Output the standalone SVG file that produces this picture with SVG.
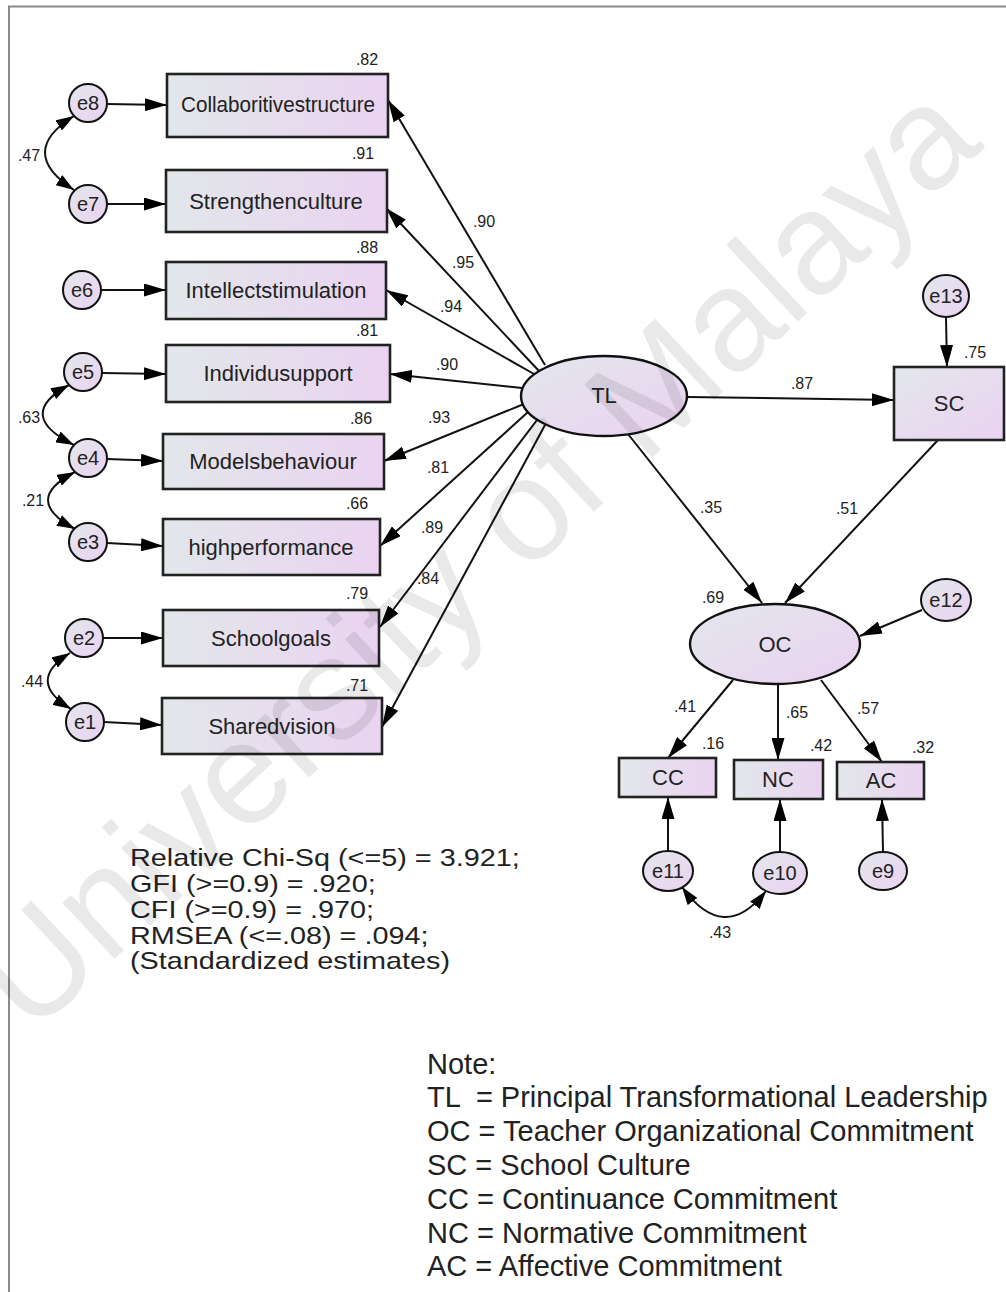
<svg xmlns="http://www.w3.org/2000/svg" width="1006" height="1292" viewBox="0 0 1006 1292">
<style>
text{font-family:"Liberation Sans",Arial,sans-serif;fill:#222}
.n{font-size:16px;text-anchor:middle}
.nd{font-size:22px;text-anchor:middle}
.en{font-size:20px;text-anchor:middle}
.big{font-size:29px}
.fit{font-size:24px}
.box{fill:url(#gh);stroke:#222;stroke-width:2.6}
.ell{fill:url(#gd);stroke:#111;stroke-width:2.4}
.err{fill:url(#gd);stroke:#111;stroke-width:2}
.c line,.c path{stroke:#111;stroke-width:2;fill:none}
</style>
<defs>
<linearGradient id="gh" x1="0" y1="0" x2="1" y2="0"><stop offset="0" stop-color="#e2e7ea"/><stop offset="1" stop-color="#ead3f1"/></linearGradient>
<linearGradient id="gd" x1="0" y1="0" x2="1" y2="1"><stop offset="0" stop-color="#e3e7ec"/><stop offset="1" stop-color="#ead2f1"/></linearGradient>
<marker id="a" viewBox="0 0 22 13" refX="22" refY="6.5" markerWidth="22" markerHeight="13" markerUnits="userSpaceOnUse" orient="auto-start-reverse"><path d="M0,0 L22,6.5 L0,13 z" fill="#000"/></marker>
<marker id="b" viewBox="0 0 18 12" refX="18" refY="6" markerWidth="18" markerHeight="12" markerUnits="userSpaceOnUse" orient="auto-start-reverse"><path d="M0,0 L18,6 L0,12 z" fill="#000"/></marker>
</defs>
<rect width="1006" height="1292" fill="#fff"/>
<path d="M9,1292 V6.5 H1006" fill="none" stroke="#8a8a8a" stroke-width="2"/>

<g id="connectors" class="c">
<line x1="107" y1="104" x2="167" y2="105" marker-end="url(#a)"/>
<line x1="107" y1="204" x2="166" y2="204" marker-end="url(#a)"/>
<line x1="101" y1="290" x2="166" y2="290" marker-end="url(#a)"/>
<line x1="102" y1="373" x2="166" y2="374" marker-end="url(#a)"/>
<line x1="107" y1="459" x2="163" y2="461" marker-end="url(#a)"/>
<line x1="107" y1="543" x2="163" y2="546" marker-end="url(#a)"/>
<line x1="103" y1="638" x2="163" y2="638" marker-end="url(#a)"/>
<line x1="104" y1="722" x2="162" y2="725" marker-end="url(#a)"/>
<path d="M74,116 Q16,152 74,190" marker-start="url(#b)" marker-end="url(#b)"/>
<path d="M69,385 Q14,415 74,445" marker-start="url(#b)" marker-end="url(#b)"/>
<path d="M75,472 Q21,500 75,529" marker-start="url(#b)" marker-end="url(#b)"/>
<path d="M70,653 Q25,681 71,709" marker-start="url(#b)" marker-end="url(#b)"/>
<line x1="545" y1="365" x2="388" y2="100" marker-end="url(#a)"/>
<line x1="539" y1="371" x2="386" y2="208" marker-end="url(#a)"/>
<line x1="534" y1="374" x2="386" y2="290" marker-end="url(#a)"/>
<line x1="522" y1="388" x2="390" y2="374" marker-end="url(#a)"/>
<line x1="524" y1="404" x2="384" y2="461" marker-end="url(#a)"/>
<line x1="528" y1="412" x2="380" y2="546" marker-end="url(#a)"/>
<line x1="537" y1="420" x2="380" y2="627" marker-end="url(#a)"/>
<line x1="545" y1="425" x2="382" y2="727" marker-end="url(#a)"/>
<line x1="687" y1="397" x2="894" y2="400" marker-end="url(#a)"/>
<line x1="946" y1="317" x2="947" y2="367" marker-end="url(#a)"/>
<line x1="628" y1="434" x2="762" y2="603" marker-end="url(#a)"/>
<line x1="938" y1="440" x2="785" y2="603" marker-end="url(#a)"/>
<line x1="922" y1="610" x2="860" y2="636" marker-end="url(#a)"/>
<line x1="733" y1="680" x2="668" y2="758" marker-end="url(#a)"/>
<line x1="778" y1="684" x2="778" y2="760" marker-end="url(#a)"/>
<line x1="821" y1="680" x2="882" y2="762" marker-end="url(#a)"/>
<line x1="668" y1="852" x2="668" y2="797" marker-end="url(#a)"/>
<line x1="780" y1="852" x2="780" y2="799" marker-end="url(#a)"/>
<line x1="883" y1="852" x2="882" y2="799" marker-end="url(#a)"/>
<path d="M682,887 Q724,945 766,891" marker-start="url(#b)" marker-end="url(#b)"/>
</g>

<g id="n-collab"><rect class="box" x="167" y="74" width="221" height="63"/><text class="nd" x="278" y="112" font-size="20" textLength="194" lengthAdjust="spacingAndGlyphs">Collaboritivestructure</text></g>
<g id="n-strength"><rect class="box" x="166" y="170" width="221" height="62"/><text class="nd" x="276" y="209">Strengthenculture</text></g>
<g id="n-intellect"><rect class="box" x="166" y="262" width="220" height="57"/><text class="nd" x="276" y="298">Intellectstimulation</text></g>
<g id="n-individu"><rect class="box" x="166" y="345" width="224" height="57"/><text class="nd" x="278" y="381">Individusupport</text></g>
<g id="n-models"><rect class="box" x="163" y="434" width="221" height="55"/><text class="nd" x="273" y="469">Modelsbehaviour</text></g>
<g id="n-high"><rect class="box" x="163" y="519" width="217" height="56"/><text class="nd" x="271" y="555">highperformance</text></g>
<g id="n-school"><rect class="box" x="163" y="610" width="216" height="56"/><text class="nd" x="271" y="646">Schoolgoals</text></g>
<g id="n-shared"><rect class="box" x="162" y="698" width="220" height="56"/><text class="nd" x="272" y="734">Sharedvision</text></g>

<g id="e8"><circle class="err" cx="88" cy="103" r="19"/><text class="en" x="88" y="110">e8</text></g>
<g id="e7"><circle class="err" cx="88" cy="204" r="19"/><text class="en" x="88" y="211">e7</text></g>
<g id="e6"><circle class="err" cx="82" cy="290" r="19"/><text class="en" x="82" y="297">e6</text></g>
<g id="e5"><circle class="err" cx="83" cy="372" r="19"/><text class="en" x="83" y="379">e5</text></g>
<g id="e4"><circle class="err" cx="88" cy="458" r="19"/><text class="en" x="88" y="465">e4</text></g>
<g id="e3"><circle class="err" cx="88" cy="542" r="19"/><text class="en" x="88" y="549">e3</text></g>
<g id="e2"><circle class="err" cx="84" cy="638" r="19"/><text class="en" x="84" y="645">e2</text></g>
<g id="e1"><circle class="err" cx="85" cy="722" r="19"/><text class="en" x="85" y="729">e1</text></g>

<g id="n-TL"><ellipse class="ell" cx="604" cy="396" rx="83" ry="40"/><text class="nd" x="604" y="403" font-size="20">TL</text></g>
<g id="n-SC"><rect class="box" x="894" y="367" width="110" height="73" style="fill:url(#gd)"/><text class="nd" x="949" y="411" font-size="21">SC</text></g>
<g id="e13"><ellipse class="err" cx="946" cy="296" rx="23" ry="21"/><text class="en" x="946" y="303">e13</text></g>
<g id="n-OC"><ellipse class="ell" cx="775" cy="644" rx="85" ry="40"/><text class="nd" x="775" y="652" font-size="21">OC</text></g>
<g id="e12"><ellipse class="err" cx="946" cy="600" rx="25" ry="21"/><text class="en" x="946" y="607">e12</text></g>
<g id="n-CC"><rect class="box" x="619" y="758" width="97" height="39"/><text class="nd" x="668" y="785" font-size="21">CC</text></g>
<g id="n-NC"><rect class="box" x="734" y="760" width="89" height="39"/><text class="nd" x="778" y="787" font-size="21">NC</text></g>
<g id="n-AC"><rect class="box" x="837" y="762" width="87" height="37"/><text class="nd" x="881" y="788" font-size="21">AC</text></g>
<g id="e11"><ellipse class="err" cx="668" cy="871" rx="25" ry="20"/><text class="en" x="668" y="878">e11</text></g>
<g id="e10"><ellipse class="err" cx="780" cy="873" rx="27" ry="21"/><text class="en" x="780" y="880">e10</text></g>
<g id="e9"><ellipse class="err" cx="883" cy="871" rx="24" ry="19"/><text class="en" x="883" y="878">e9</text></g>

<g id="labels">
<text class="n" x="367" y="65">.82</text>
<text class="n" x="363" y="159">.91</text>
<text class="n" x="367" y="253">.88</text>
<text class="n" x="367" y="336">.81</text>
<text class="n" x="361" y="424">.86</text>
<text class="n" x="357" y="509">.66</text>
<text class="n" x="357" y="599">.79</text>
<text class="n" x="357" y="691">.71</text>
<text class="n" x="29" y="161">.47</text>
<text class="n" x="29" y="423">.63</text>
<text class="n" x="33" y="506">.21</text>
<text class="n" x="32" y="687">.44</text>
<text class="n" x="484" y="227">.90</text>
<text class="n" x="463" y="268">.95</text>
<text class="n" x="451" y="312">.94</text>
<text class="n" x="447" y="370">.90</text>
<text class="n" x="439" y="423">.93</text>
<text class="n" x="438" y="473">.81</text>
<text class="n" x="432" y="533">.89</text>
<text class="n" x="428" y="584">.84</text>
<text class="n" x="802" y="389">.87</text>
<text class="n" x="975" y="358">.75</text>
<text class="n" x="711" y="513">.35</text>
<text class="n" x="847" y="514">.51</text>
<text class="n" x="713" y="603">.69</text>
<text class="n" x="685" y="712">.41</text>
<text class="n" x="797" y="718">.65</text>
<text class="n" x="868" y="714">.57</text>
<text class="n" x="713" y="749">.16</text>
<text class="n" x="821" y="751">.42</text>
<text class="n" x="923" y="753">.32</text>
<text class="n" x="720" y="938">.43</text>
</g>

<g id="fit" transform="translate(130,0) scale(1.2,1)">
<text class="fit" x="0" y="866">Relative Chi-Sq (&lt;=5) = 3.921;</text>
<text class="fit" x="0" y="892">GFI (&gt;=0.9) = .920;</text>
<text class="fit" x="0" y="918">CFI (&gt;=0.9) = .970;</text>
<text class="fit" x="0" y="944">RMSEA (&lt;=.08) = .094;</text>
<text class="fit" x="0" y="969">(Standardized estimates)</text>
</g>
<g id="note">
<text class="big" x="427" y="1074">Note:</text>
<text class="big" x="427" y="1107" style="white-space:pre">TL  = Principal Transformational Leadership</text>
<text class="big" x="427" y="1141">OC = Teacher Organizational Commitment</text>
<text class="big" x="427" y="1175">SC = School Culture</text>
<text class="big" x="427" y="1209">CC = Continuance Commitment</text>
<text class="big" x="427" y="1243">NC = Normative Commitment</text>
<text class="big" x="427" y="1276">AC = Affective Commitment</text>
</g>

<text transform="translate(508,592) rotate(-43)" text-anchor="middle" style="font-size:145px;fill:#000;fill-opacity:0.085">University of Malaya</text>
</svg>
